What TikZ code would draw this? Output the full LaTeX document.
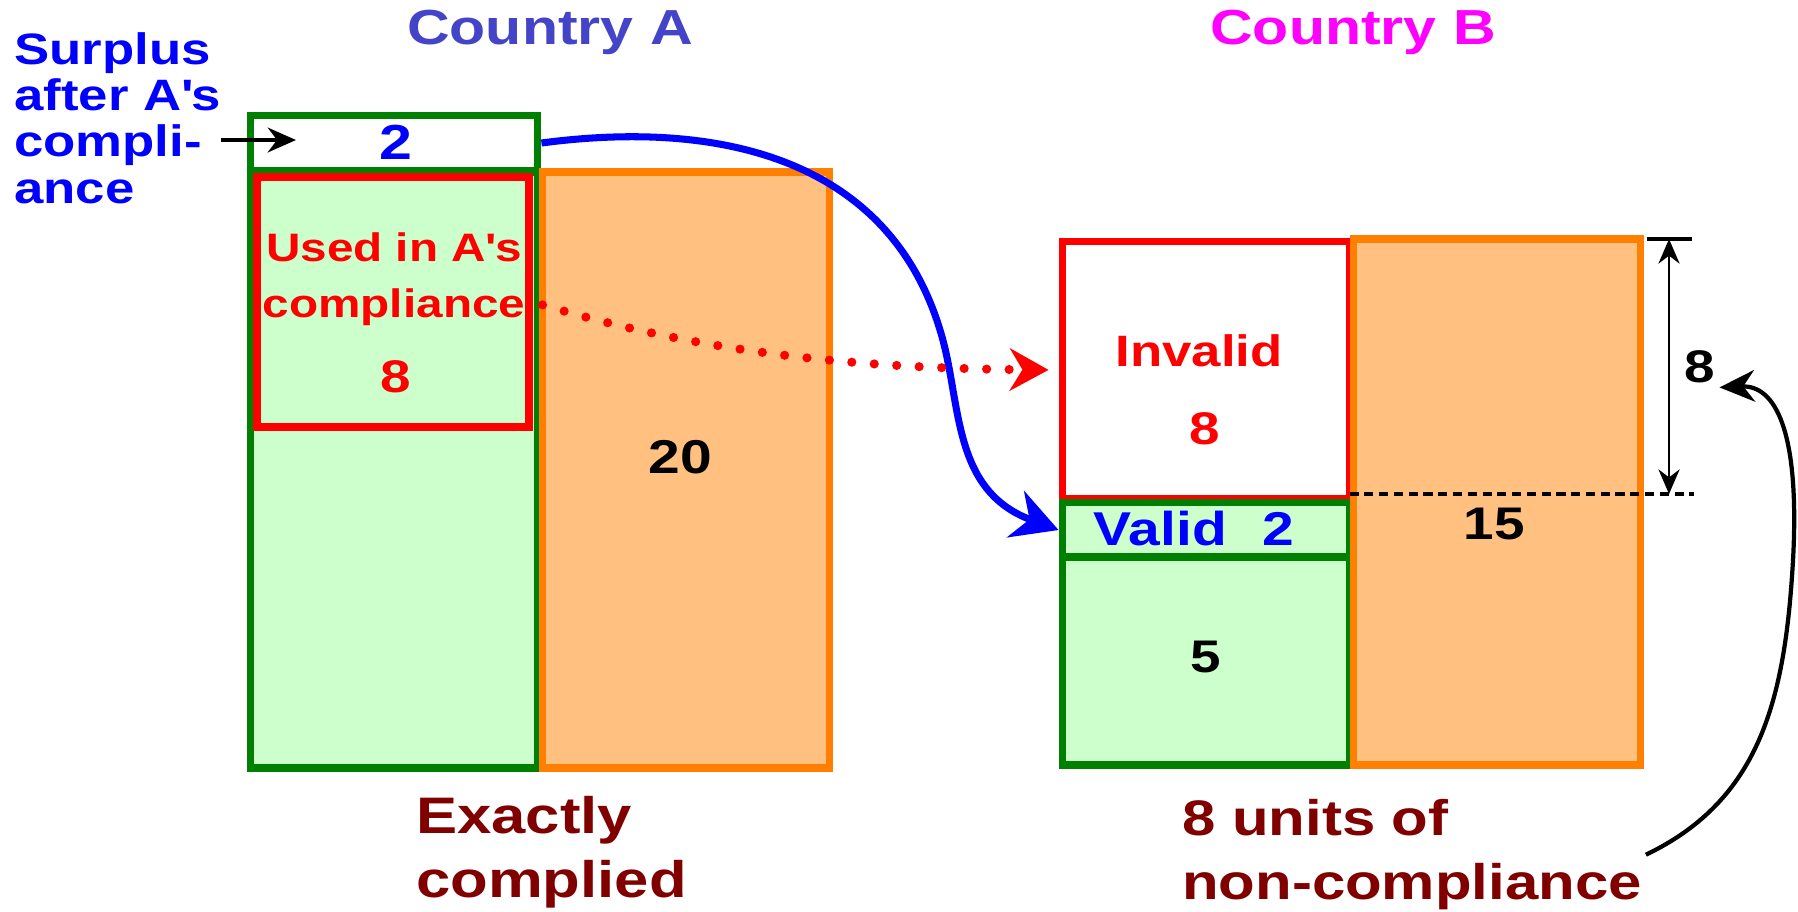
\documentclass[tikz,border=0pt]{standalone}
\usepackage{fontspec}
\setmainfont{Liberation Sans}[FakeStretch=1.2]
\usetikzlibrary{arrows.meta,positioning}

\definecolor{boxgreen}{RGB}{0,128,0}
\definecolor{paleGreen}{RGB}{204,255,204}
\definecolor{boxorange}{RGB}{255,128,0}
\definecolor{paleOrange}{RGB}{255,192,128}
\definecolor{slateA}{RGB}{68,68,200}
\definecolor{pinkB}{RGB}{255,0,255}
\definecolor{maroonText}{RGB}{128,0,0}

\tikzset{
    greenbox/.style={draw=boxgreen, fill=paleGreen, line width=2.2pt, inner sep=0pt},
    redbox/.style={draw=red, line width=2.2pt, inner sep=0pt},
    orangebox/.style={draw=boxorange, fill=paleOrange, line width=2.2pt, inner sep=0pt},
    txt/.style={font=\bfseries\fontsize{#1}{#1}\selectfont, inner sep=1pt},
    txt/.default=13pt,
}

\begin{document}
\begin{tikzpicture}[x=0.01cm, y=-0.01cm]

\useasboundingbox (0,0) rectangle (1798,911);

% country A
\node[greenbox, minimum width=2.87cm, minimum height=5.95cm] (totA) at (394,470) {};
\node[greenbox, fill=white, minimum width=2.87cm, minimum height=0.55cm] (surplus) at (394,143) {};
\node[redbox, minimum width=2.72cm, minimum height=2.5cm] (used) at (393,302) {};
\node[orangebox, minimum width=2.87cm, minimum height=5.95cm] (emA) at (686,470) {};

% country B
\node[redbox, fill=white, minimum width=2.87cm, minimum height=2.57cm] (invalid) at (1206,370) {};
\node[greenbox, minimum width=2.87cm, minimum height=0.55cm] (valid) at (1206,530) {};
\node[greenbox, minimum width=2.87cm, minimum height=2.08cm] (five) at (1206,661) {};
\node[orangebox, minimum width=2.87cm, minimum height=5.25cm] (emB) at (1497,502) {};

% headings
\node[txt=14pt, text=slateA] (headA) at (550,32) {Country A};
\node[txt=14pt, text=pinkB] (headB) at (1353,32) {Country B};

% labels in the boxes
\node[txt=14pt, text=blue] (surplusval) at (396,142) {2};
\node[txt=11pt, text=red, align=center, font=\bfseries\fontsize{11.3pt}{16pt}\selectfont] (usedtxt) at (394,279) {Used in A\textquotesingle s\\compliance};
\node[txt=13pt, text=red] (usedval) at (396,377) {8};
\node[txt=13.5pt] (emAval) at (680,457) {20};
\node[txt=12.5pt, text=red] (invalidtxt) at (1199,351) {Invalid};
\node[txt=13pt, text=red] (invalidval) at (1205,429) {8};
\node[txt=13.5pt, text=blue] (validtxt) at (1194,529) {Valid\hspace{0.75em}2};
\node[txt=13pt] (fiveval) at (1206,657) {5};
\node[txt=13pt] (emBval) at (1494,524) {15};

% side texts
\node[txt=12.5pt, text=blue, align=left, anchor=north west, font=\bfseries\fontsize{12.5pt}{13.2pt}\selectfont] (surplustxt) at (10,28) {Surplus\\after A\textquotesingle s\\compli-\\ance};
\node[txt=14.6pt, text=maroonText, align=left, anchor=north west, font=\bfseries\fontsize{14.6pt}{18.3pt}\selectfont] (exact) at (412,792) {Exactly\\complied};
\node[txt=14.2pt, text=maroonText, align=left, anchor=north west, font=\bfseries\fontsize{14.2pt}{18.3pt}\selectfont] (noncomp) at (1178,795) {8 units of\\non-compliance};

% dimension of the shortfall
\coordinate (dimtop) at (1669,239);
\coordinate (dimbot) at (1669,494);
\draw[line width=1.4pt] (1647,239) -- (1692,239);
\draw[dashed, dash pattern=on 2.6pt off 1.6pt, line width=0.9pt] (emB.west |- dimbot) -- (1694,494);
\draw[line width=0.8pt, {Stealth[length=7pt,width=6pt]}-{Stealth[length=7pt,width=6pt]}] (dimtop) -- (dimbot);
\node[txt=13pt] (gap) at (1700,367) {8};

% connectors
\coordinate (pointer) at (221,140);
\draw[line width=1.3pt, -{Stealth[length=8pt,width=7pt]}] (pointer) -- (296,140);
\draw[blue, line width=2pt, -{Stealth[length=13pt,width=14pt]}]
    (surplus.east) .. controls (730,118) and (890,165) .. (940,330)
    .. controls (962,400) and (950,490) .. (valid.west);
\draw[red, line width=2.6pt, line cap=round, dash pattern=on 0pt off 6.4pt, -{Stealth[length=11pt,width=12pt,line cap=butt]}, shorten <=1mm, shorten >=1mm]
    (used.east) .. controls (700,352) and (850,368) .. (invalid.west);
\draw[line width=1.2pt, -{Stealth[length=10pt,width=9pt]}]
    (noncomp.east) .. controls (1760,800) and (1785,700) .. (1793,560)
    .. controls (1800,430) and (1775,385) .. (gap.south east);

\end{tikzpicture}
\end{document}
